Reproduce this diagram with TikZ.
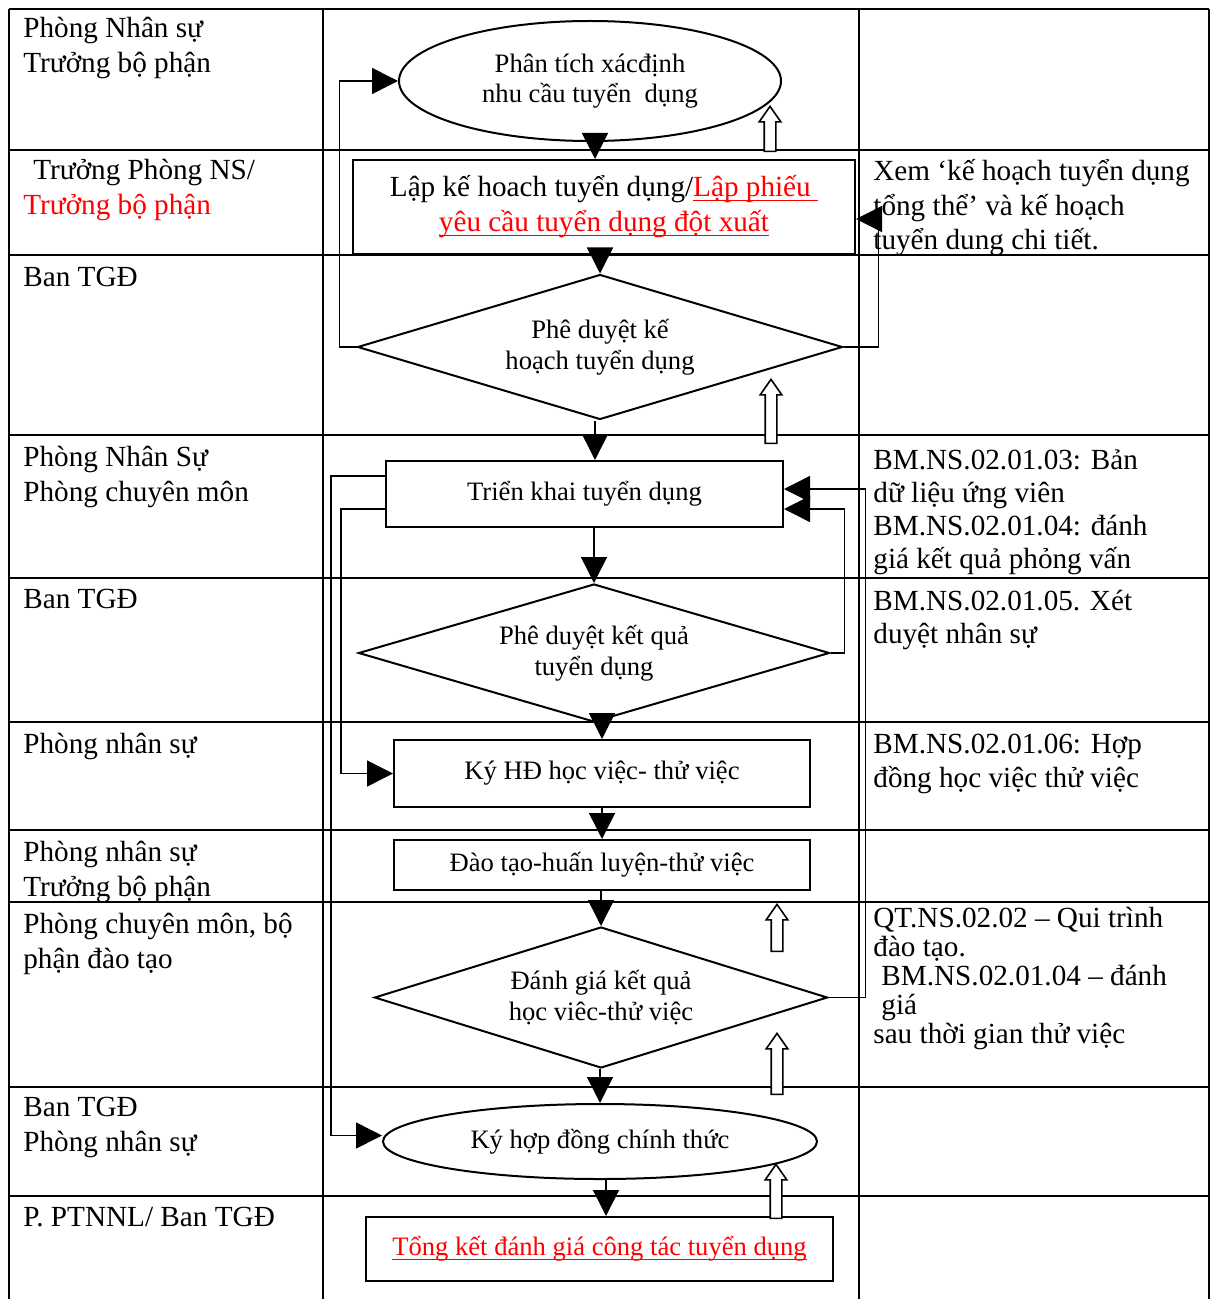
\documentclass[tikz,border=0pt]{standalone}
\usepackage{fontspec}
\setmainfont{Liberation Serif}
\usetikzlibrary{arrows.meta,shapes.geometric,shapes.arrows}
\lineskiplimit=-\maxdimen
\newsavebox\ulinebox
\newcommand\ulined[1]{\sbox\ulinebox{#1}\rlap{\rule[-2.2pt]{\wd\ulinebox}{0.6pt}}\usebox\ulinebox}
\newcommand\lanefont{\fontsize{14.6pt}{17.5pt}\selectfont}
\newcommand\stepfont{\fontsize{13.3pt}{15.3pt}\selectfont}
\tikzset{
  tablerule/.style={line width=1pt},
  lane/.style={anchor=base west,align=left,inner sep=0pt,font=\lanefont},
  box/.style={draw,line width=1pt,inner sep=0pt,font=\stepfont,align=center},
  oval/.style={box,ellipse},
  check/.style={box,diamond,aspect=3.3},
  flow/.style={line width=0.75pt,-{Triangle[length=13pt,width=13pt]}},
  hollow/.style={draw,fill=white,line width=0.8pt,single arrow,shape border rotate=90,
    inner sep=2.5pt,single arrow head extend=2.5pt,single arrow tip angle=70,anchor=tip},
}
\begin{document}
\begin{tikzpicture}[x=0.5pt,y=-0.5pt]
  \useasboundingbox (0,0) rectangle (1211,1299);
  \foreach \yy in {9,150,255,435,578,722,830,902,1087,1196}
    \draw[tablerule] (9,\yy) -- (1209,\yy);
  \foreach \xx in {9,323,859,1209}
    \draw[tablerule] (\xx,9) -- (\xx,1299);

  \node[lane] (w1) at (23,73) {Phòng Nhân sự\\Trưởng bộ phận};
  \node[lane] (w2) at (23,215) {\hspace*{5pt}Trưởng Phòng NS/\\\textcolor{red}{Trưởng bộ phận}};
  \node[lane] (w3) at (23,287) {Ban TGĐ};
  \node[lane] (w4) at (23,501) {Phòng Nhân Sự\\Phòng chuyên môn};
  \node[lane] (w5) at (23,608) {Ban TGĐ};
  \node[lane] (w6) at (23,753) {Phòng nhân sự};
  \node[lane] (w7) at (23,896) {Phòng nhân sự\\Trưởng bộ phận};
  \node[lane] (w8) at (23,968) {Phòng chuyên môn, bộ\\phận đào tạo};
  \node[lane] (w9) at (23,1151) {Ban TGĐ\\Phòng nhân sự};
  \node[lane] (w10) at (23,1226) {P. PTNNL/ Ban TGĐ};

  \node[lane,font={\fontsize{14.6pt}{17.3pt}\selectfont}] (n2) at (873,250)
    {Xem ‘kế hoạch tuyển dụng\\tổng thể’ và kế hoạch\\tuyển dung chi tiết.};
  \node[lane,font={\fontsize{14.6pt}{16.4pt}\selectfont}] (n4) at (873,568)
    {BM.NS.02.01.03: Bản\\dữ liệu ứng viên\\BM.NS.02.01.04: đánh\\giá kết quả phỏng vấn};
  \node[lane,font={\fontsize{14.6pt}{16.5pt}\selectfont}] (n5) at (873,643)
    {BM.NS.02.01.05. Xét\\duyệt nhân sự};
  \node[lane,font={\fontsize{14.6pt}{17pt}\selectfont}] (n6) at (873,787)
    {BM.NS.02.01.06: Hợp\\đồng học việc thử việc};
  \node[lane,font={\fontsize{14.6pt}{14.4pt}\selectfont}] (n8) at (873,1043)
    {QT.NS.02.02 – Qui trình\\đào tạo.\\\hspace*{4pt}BM.NS.02.01.04 – đánh\\\hspace*{4pt}giá\\sau thời gian thử việc};

  \node[oval,minimum width=191pt,minimum height=60pt] (e1) at (590,81)
    {Phân tích xácđịnh\\nhu cầu tuyển\ \ dụng};
  \node[box,minimum width=251pt,minimum height=47pt,font=\lanefont] (r2) at (604,207)
    {Lập kế hoach tuyển dụng/\textcolor{red}{\ulined{Lập phiếu\ }}\\\textcolor{red}{\ulined{yêu cầu tuyển dụng đột xuất}}};
  \node[check,minimum width=242.5pt,minimum height=72.5pt] (d3) at (600,347)
    {Phê duyệt kế\\hoạch tuyển dụng};
  \node[box,minimum width=198.5pt,minimum height=33pt] (r4) at (584.5,494) {Triển khai tuyển dụng};
  \node[check,minimum width=235.5pt,minimum height=69pt] (d5) at (594,653)
    {Phê duyệt kết quả\\tuyển dụng};
  \node[box,minimum width=208pt,minimum height=33.5pt] (r6) at (602,773.5) {Ký HĐ học việc- thử việc};
  \node[box,minimum width=208pt,minimum height=25pt] (r7) at (602,865) {Đào tạo-huấn luyện-thử việc};
  \node[check,minimum width=226.5pt,minimum height=70.5pt] (d8) at (601,997.5)
    {Đánh giá kết quả\\học viêc-thử việc};
  \node[oval,minimum width=217pt,minimum height=37.5pt] (e9) at (600,1141.5) {Ký hợp đồng chính thức};
  \node[box,minimum width=233.5pt,minimum height=32pt] (r10) at (599.5,1249)
    {\textcolor{red}{\ulined{Tổng kết đánh giá công tác tuyển dụng}}};

  \draw[flow] ([xshift=2.5pt]e1.south) -- ([xshift=2.5pt]e1.south |- r2.north);
  \draw[flow] (r2.south -| d3.north) -- (d3.north);
  \draw[flow] ([xshift=-2.5pt]d3.south) -- ([xshift=-2.5pt]d3.south |- r4.north);
  \draw[flow] (r4.south -| d5.north) -- (d5.north);
  \draw[flow] (d5.south -| r6.north) -- (r6.north);
  \draw[flow] (r6.south -| r7.north) -- (r7.north);
  \draw[flow] (r7.south -| d8.north) -- (d8.north);
  \draw[flow] (d8.south -| e9.north) -- (e9.north);
  \draw[flow] ([xshift=3pt]e9.south) -- ([xshift=3pt]e9.south |- r10.north);

  \draw[flow] (d3.west) -- ++(-17,0) |- (e1.west);
  \draw[flow] (d3.east) -- ++(35,0) |- ([yshift=-6pt]r2.east);
  \draw[flow] ([yshift=9pt]r4.west) -- ++(-54,0) |- ([yshift=3pt]e9.west);
  \draw[flow] ([yshift=-7.5pt]r4.west) -- ++(-44,0) |- (r6.west);
  \draw[flow] (d5.east) -- ++(14,0) |- ([yshift=-7.5pt]r4.east);
  \draw[flow] (d8.east) -- ++(37,0) |- ([yshift=2.5pt]r4.east);

  \node[hollow,minimum height=22.5pt] (u1) at (770,105) {};
  \node[hollow,minimum height=32pt] (u2) at (771,378) {};
  \node[hollow,minimum height=23.5pt] (u3) at (777,903) {};
  \node[hollow,minimum height=30.5pt] (u4) at (777,1032) {};
  \node[hollow,minimum height=27pt] (u5) at (776,1163) {};
\end{tikzpicture}
\end{document}
